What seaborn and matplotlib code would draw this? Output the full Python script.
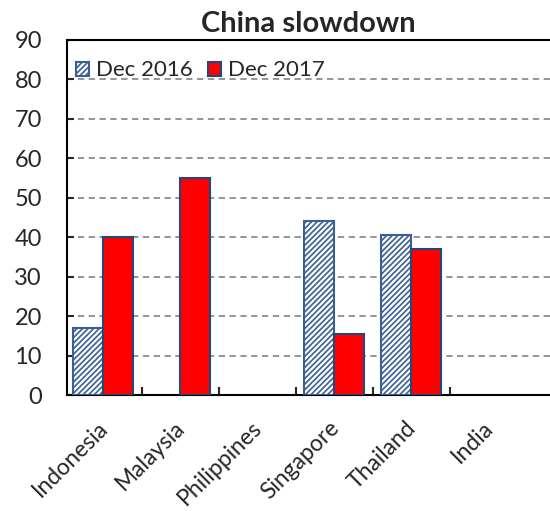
import numpy as np
import pandas as pd
import matplotlib
matplotlib.use("Agg")
import matplotlib.pyplot as plt
import matplotlib.transforms as mtransforms
import seaborn as sns

categories = ["Indonesia", "Malaysia", "Philippines", "Singapore", "Thailand", "India"]
dec2016 = [17, np.nan, np.nan, 44, 40.5, np.nan]
dec2017 = [40, 55, np.nan, 15.5, 37, np.nan]
series = ["Dec 2016", "Dec 2017"]
yticks = [0, 10, 20, 30, 40, 50, 60, 70, 80, 90]

sns.set_style("white")
plt.rcParams['font.family'] = ['Lato', 'DejaVu Sans']
plt.rcParams['hatch.linewidth'] = 1.2

df = pd.DataFrame({
    "country": categories * 2,
    "value": dec2016 + dec2017,
    "series": [series[0]] * len(categories) + [series[1]] * len(categories),
})

fig = plt.figure(figsize=(5.5, 5.11), dpi=100)
ax = fig.add_axes([67/550, 1-395/511, 1-67/550, (395-40)/511])

edge = "#1F497D"
sns.barplot(data=df, x="country", y="value", hue="series", order=categories,
            hue_order=series, palette=["white", "#FF0000"], width=0.78, saturation=1,
            edgecolor=edge, linewidth=1.5, ax=ax, zorder=3, legend=True)
for bar in ax.containers[0]:
    bar.set_hatch("//////")
    bar.set_facecolor("white")
    bar.set_edgecolor("#3A5F95")

ax.set_ylim(0, 90)
ax.set_yticks(yticks)
ax.set_xlim(-0.47, 5.80)
ax.yaxis.grid(True, linestyle=(0, (3.5, 2.5)), color="#8C8C8C", linewidth=1.3, zorder=0)
ax.set_axisbelow(True)
ax.set_xlabel("")
ax.set_ylabel("")
ax.set_title("China slowdown", fontsize=21, fontweight="bold", pad=6)

for s in ["left", "bottom", "top"]:
    ax.spines[s].set_visible(True)
    ax.spines[s].set_color("black")
    ax.spines[s].set_linewidth(1.5)
ax.spines["right"].set_visible(False)

ax.set_xticks([i + 0.5 for i in range(5)], minor=True)
ax.tick_params(axis="x", which="major", length=0, labelsize=16.5, pad=14)
ax.tick_params(axis="x", which="minor", direction="in", length=6, width=1.5, bottom=True)
ax.tick_params(axis="y", direction="in", length=5, width=1.5, labelsize=17, left=True, pad=18)
for t in ax.get_yticklabels():
    t.set_horizontalalignment("right")
offset = mtransforms.ScaledTranslation(-0.06, -0.03, fig.dpi_scale_trans)
for t in ax.get_xticklabels():
    t.set_rotation(45)
    t.set_ha("right")
    t.set_rotation_mode("anchor")
    t.set_transform(t.get_transform() + offset)

leg = ax.legend(loc="upper left", bbox_to_anchor=(-0.01, 0.98), ncol=2, frameon=False,
                fontsize=16, handlelength=0.6, handleheight=0.6, handletextpad=0.3,
                columnspacing=0.7, borderaxespad=0.2)
for h in leg.legend_handles:
    h.set_linewidth(1.5)
leg.legend_handles[0].set_hatch("//////")
leg.legend_handles[0].set_edgecolor("#3A5F95")

fig.savefig("out.png", dpi=100)
